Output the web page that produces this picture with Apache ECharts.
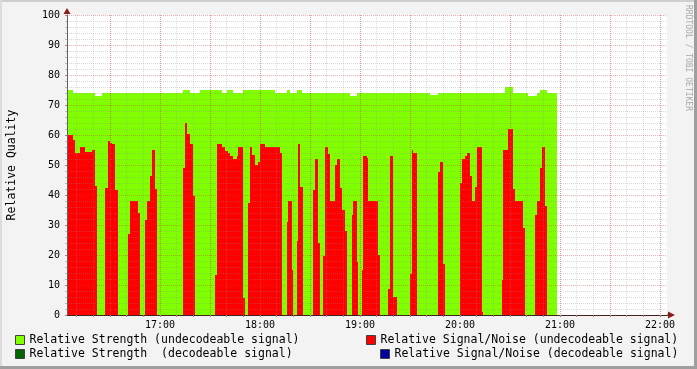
<!DOCTYPE html>
<html><head><meta charset="utf-8">
<script src="https://cdn.jsdelivr.net/npm/echarts@6/dist/echarts.min.js"></script>
<style>html,body{margin:0;padding:0;background:#F3F3F3}#c{width:697px;height:369px}</style>
</head><body><div id="c"></div>
<script>
// x values are minutes after 16:00
const xMin = 4.2, xMax = 364.2;
const hourLabels = [60, 120, 180, 240, 300, 360];
const halfHourGrid = [30, 60, 90, 120, 150, 180, 210, 240, 270, 300, 330, 360];
const tenMinGrid = [10,20,30,40,50,60,70,80,90,100,110,120,130,140,150,160,170,180,190,200,210,220,230,240,250,260,270,280,290,300,310,320,330,340,350,360];

// Relative Strength (undecodeable signal) - value holds from each minute to the next
const greenMinutes = [4,8,21,25,74,78,84,97,100,104,110,129,136,138,142,145,174,178,222,227,267,272,281,286,288,292,298];
const greenValues  = [75,74,73,74,75,74,75,74,75,74,75,74,75,74,75,74,73,74,73.5,74,76,74,73,74,75,74,74];

// Relative Signal/Noise (undecodeable signal)
const redMinutes = [4,8,9,12,15,19,21,22, 27,29,30,31,33,35, 41,42,47,48, 51,52,54,55,57,58,
  74,75,76,78,80,81, 93,94,97,99,101,102,104,106,107,110,111, 113,114,115,117,119,120,123,132,133,
  136,137,139,140, 142,143,144,146, 152,153,155,156, 158,159,161,162,165,166,168,169,171,172,
  175,176,178,179, 181,182,184,185,191,192, 197,198,200,202, 210,211,212,214, 227,228,230,231,
  240,241,243,244,246,247,249,250,253,254, 265,266,269,272,273,278,279, 285,286,288,289,291,292, 298];
const redValues = [60,58.3,54,56,54.3,55,43,0, 42.3,58,57.3,57,41.7,0, 27,38,34,0, 31.7,38,46.3,55,42,0,
  49,64,60.3,57,39.7,0, 13.3,57,56,54.7,54,53,52,53,56,5.7,0, 37.3,56,53.3,50,51,57,56,54,0,
  31,38,15,0, 24.7,57,42.7,0, 41.7,52,24,0, 19.7,56,53.7,38,50,52,42.3,35,28,0,
  33.3,38,17.7,0, 15,53,52.3,38,20,0, 8.7,53,6,0, 13.7,55,54,0, 47.7,51,17,0,
  44,52,53,54,46.3,38,42.7,56,1,0, 11.7,55,62,42,38,29,0, 33.3,38,49,56,36.3,0, 0];

const names = {
  sU: 'Relative Strength (undecodeable signal)',
  nU: 'Relative Signal/Noise (undecodeable signal)',
  sD: 'Relative Strength  (decodeable signal)',
  nD: 'Relative Signal/Noise (decodeable signal)'
};

// [start, end, value] items: each value holds from its minute until the next change
function spans(ms, vs) {
  const out = [];
  for (let i = 0; i < ms.length - 1; i++) out.push([ms[i], ms[i + 1], vs[i]]);
  return out;
}

const FONT = '"DejaVu Sans Mono", monospace';
const chart = echarts.init(document.getElementById('c'), null, {renderer: 'canvas'});

const legendCommon = {
  icon: 'rect', itemWidth: 9, itemHeight: 9, padding: 0, selectedMode: false,
  itemStyle: {borderColor: '#404040', borderWidth: 1},
  textStyle: {fontFamily: FONT, fontSize: 11.5, color: '#000'}
};

function areaSeries(name, data, color, z) {
  return {
    name, type: 'custom', data, z, silent: true, animation: false,
    itemStyle: {color},
    encode: {x: [0, 1], y: 2},
    renderItem(params, api) {
      const p0 = api.coord([api.value(0), api.value(2)]);
      const p1 = api.coord([api.value(1), 0]);
      const x0 = Math.round(p0[0]), x1 = Math.round(p1[0]);
      const y0 = Math.round(p0[1]), y1 = Math.round(p1[1]);
      const rect = echarts.graphic.clipRectByRect(
        {x: x0, y: y0, width: x1 - x0, height: y1 - y0}, params.coordSys);
      if (!rect || rect.height <= 0) return null;
      return {type: 'rect', shape: rect, style: {fill: color}};
    }
  };
}

chart.setOption({
  animation: false,
  backgroundColor: '#F3F3F3',
  grid: {left: 67, top: 15, width: 600, height: 300, show: true, backgroundColor: '#FFFFFF',
    borderWidth: 0, containLabel: false, outerBoundsMode: 'none'},
  legend: [
    Object.assign({data: [names.sU], left: 15, top: 334}, legendCommon),
    Object.assign({data: [names.nU], left: 366, top: 334}, legendCommon),
    Object.assign({data: [names.sD], left: 15, top: 348}, legendCommon),
    Object.assign({data: [names.nD], left: 380, top: 348}, legendCommon)
  ],
  xAxis: [
    {
      type: 'value', min: xMin, max: xMax, position: 'bottom', z: 3,
      axisLine: {show: true, onZero: false, lineStyle: {color: '#202020', width: 1}},
      axisTick: {show: true, customValues: tenMinGrid, length: 2, lineStyle: {color: '#B08080'}},
      axisLabel: {
        customValues: hourLabels, margin: 5, fontFamily: FONT, fontSize: 10, color: '#000',
        formatter: v => (16 + Math.round(v / 60)) + ':00'
      },
      splitLine: {show: true, customValues: tenMinGrid, lineStyle: {color: 'rgba(140,140,140,0.32)', width: 1, type: [1, 1]}}
    },
    {
      type: 'value', min: xMin, max: xMax, position: 'top', z: 4,
      axisLine: {show: false}, axisLabel: {show: false},
      axisTick: {show: false, customValues: halfHourGrid},
      splitLine: {show: true, customValues: halfHourGrid, lineStyle: {color: 'rgba(222,48,48,0.38)', width: 1, type: [1, 1]}}
    }
  ],
  yAxis: [{
    type: 'value', min: 0, max: 100, interval: 10, z: 4,
    name: 'Relative Quality', nameLocation: 'middle', nameGap: 49, nameRotate: 90,
    nameTextStyle: {fontFamily: FONT, fontSize: 11.5, color: '#000'},
    axisLine: {show: true, lineStyle: {color: '#606060', width: 1}},
    axisTick: {show: true, length: 2, lineStyle: {color: '#B08080'}},
    minorTick: {show: true, splitNumber: 5, length: 2, lineStyle: {color: '#C0C0C0'}},
    axisLabel: {margin: 7, fontFamily: FONT, fontSize: 10, color: '#000'},
    splitLine: {show: true, lineStyle: {color: 'rgba(222,48,48,0.38)', width: 1, type: [1, 1]}},
    minorSplitLine: {show: true, lineStyle: {color: 'rgba(140,140,140,0.32)', width: 1, type: [1, 1]}}
  }],
  series: [
    areaSeries(names.sU, spans(greenMinutes, greenValues), '#80FF00', 1),
    areaSeries(names.sD, [], '#006600', 1),
    areaSeries(names.nU, spans(redMinutes, redValues), '#FF0000', 2),
    areaSeries(names.nD, [], '#0000A0', 2)
  ],
  graphic: [
    {type: 'rect', shape: {x: 0, y: 0, width: 697, height: 2}, style: {fill: '#CFCFCF'}, silent: true},
    {type: 'rect', shape: {x: 0, y: 0, width: 2, height: 369}, style: {fill: '#DCDCDC'}, silent: true},
    {type: 'rect', shape: {x: 694, y: 0, width: 3, height: 369}, style: {fill: '#9E9E9E'}, silent: true},
    {type: 'rect', shape: {x: 0, y: 366, width: 697, height: 3}, style: {fill: '#9E9E9E'}, silent: true},
    {type: 'polygon', shape: {points: [[63.5, 14], [70.5, 14], [67, 8]]}, style: {fill: '#8B1A1A'}, silent: true, z: 10},
    {type: 'rect', shape: {x: 667, y: 314.5, width: 2, height: 1}, style: {fill: '#202020'}, silent: true, z: 10},
    {type: 'polygon', shape: {points: [[668, 311.5], [668, 318.5], [675, 315]]}, style: {fill: '#8B1A1A'}, silent: true, z: 10},
    {type: 'text', x: 692, y: 5, rotation: -Math.PI / 2, silent: true,
      style: {text: 'RRDTOOL / TOBI OETIKER', font: '8px "DejaVu Sans Mono", monospace', fill: '#A8A8A8', align: 'left', verticalAlign: 'top'}}
  ]
});
</script>
</body></html>
